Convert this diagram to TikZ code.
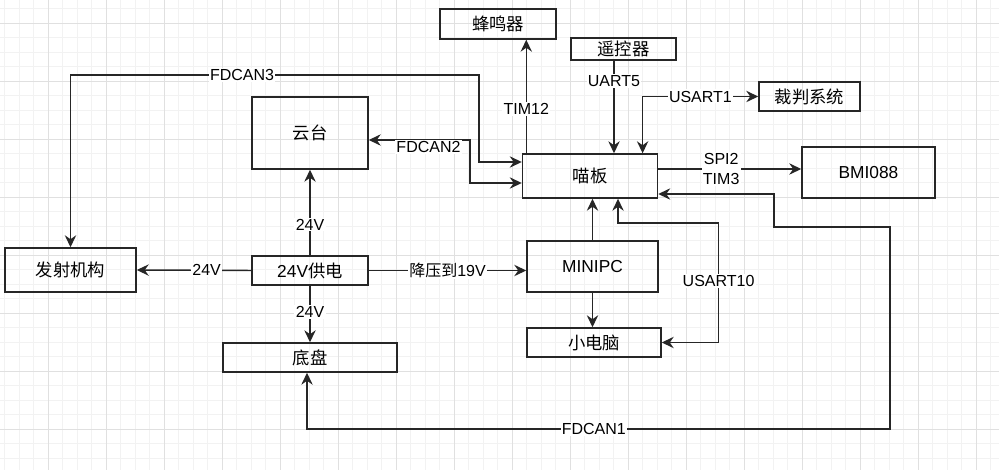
\documentclass[tikz,border=0pt]{standalone}
\usepackage{fontspec}
\setmainfont{Liberation Sans}
\newfontfamily\cjk{Noto Sans CJK SC}
\usetikzlibrary{arrows.meta, calc}

\begin{document}
\begin{tikzpicture}[x=0.75pt, y=-0.75pt,
    box/.style 2 args={draw=black!85, line width=1.1pt, inner sep=0pt,
        minimum width=#1*0.75pt, minimum height=#2*0.75pt,
        font=\fontsize{13}{15}\selectfont},
    link/.style={draw=black!85, line width=1.1pt,
        >={Stealth[length=9pt, width=8.5pt, inset=3pt]}},
    lab/.style={fill=white, inner sep=1pt, font=\fontsize{12}{15.5}\selectfont},
    gridminor/.style={draw=black!5, line width=0.75pt},
    gridmajor/.style={draw=black!12, line width=0.75pt}]

        % background grid
        \useasboundingbox (0,0) rectangle (999,470);
        \fill[white] (0,0) rectangle (999,470);
        \foreach \i in {0,...,68} \draw[gridminor] (4.8+14.5*\i,0) -- (4.8+14.5*\i,470);
        \foreach \i in {0,...,31} \draw[gridminor] (0,8.8+14.5*\i) -- (999,8.8+14.5*\i);
        \foreach \i in {1,...,17} \draw[gridmajor] (-9.7+58*\i,0) -- (-9.7+58*\i,470);
        \foreach \i in {0,...,7} \draw[gridmajor] (0,23.3+58*\i) -- (999,23.3+58*\i);

        % blocks
        \node[box={116}{30}] (buzzer) at (498,24) {\cjk 蜂鸣器};
        \node[box={105}{22}] (remote) at (623.5,49) {\cjk 遥控器};
        \node[box={101}{29}] (referee) at (809.5,96.5) {\cjk 裁判系统};
        \node[box={135}{44}] (board) at (590,176) {\cjk 喵板};
        \node[box={133}{51}] (imu) at (868.5,172.5) {BMI088};
        \node[box={116}{72}] (gimbal) at (310,133) {\cjk 云台};
        \node[box={131}{44}] (shooter) at (70.5,270) {\cjk 发射机构};
        \node[box={116}{29}] (power) at (310,270.5) {24V{\cjk 供电}};
        \node[box={174}{29}] (chassis) at (310,357.5) {\cjk 底盘};
        \node[box={131}{51}] (minipc) at (592.5,266.5) {MINIPC};
        \node[box={134}{29}] (nuc) at (594,342.5) {\cjk 小电脑};

        % power lines
        \draw[link,->] (power.north) -- node[lab,pos=0.36]{24V} (gimbal.south);
        \draw[link,->] (power.south) -- node[lab,pos=0.46]{24V} (chassis.north);
        \draw[link,->] (power.west) -- node[lab,pos=0.39]{24V} (shooter.east);
        \draw[link,->] (power.east) -- node[lab]{{\cjk 降压到}19V} (power.east -| minipc.west);

        % bus lines of the board
        \draw[link,<->] (shooter.north) |- node[lab,pos=0.71]{FDCAN3} (479,75) |- ($(board.west)+(0,-14)$);
        \draw[link,<->] ($(gimbal.east)+(0,7)$) -- node[lab,pos=0.59,yshift=-5pt]{FDCAN2} (470,140) |- ($(board.west)+(0,7)$);
        \draw[link,->] ($(board.north west)+(4.5,0)$) coordinate (t12) -- node[lab,pos=0.39]{TIM12} (t12 |- buzzer.south);
        \draw[link,->] ($(remote.south)+(-9.5,0)$) coordinate (u5) -- node[lab,pos=0.22]{UART5} (u5 |- board.north);
        \draw[link,<->] ($(board.north)+(52.6,0)$) |- node[lab,pos=0.75]{USART1} (referee.west);
        \draw[link,->] ($(board.east)+(0,-7)$) coordinate (spi) -- node[lab,align=center,pos=0.44]{SPI2\\TIM3} (spi -| imu.west);
        \draw[link,<->] ($(board.east)+(0,18)$) -| (774,227) -| (890,429) -| node[lab,pos=0.254]{FDCAN1} ($(chassis.south)+(-3,0)$);

        % mini pc
        \draw[link,->] (minipc.north) -- (minipc.north |- board.south);
        \draw[link,<->] ($(board.south)+(28,0)$) |- (718.6,223) |- node[lab,pos=0.243]{USART10} (nuc.east);
        \draw[link,->] (minipc.south) -- (minipc.south |- nuc.north);

    \end{tikzpicture}
\end{document}
